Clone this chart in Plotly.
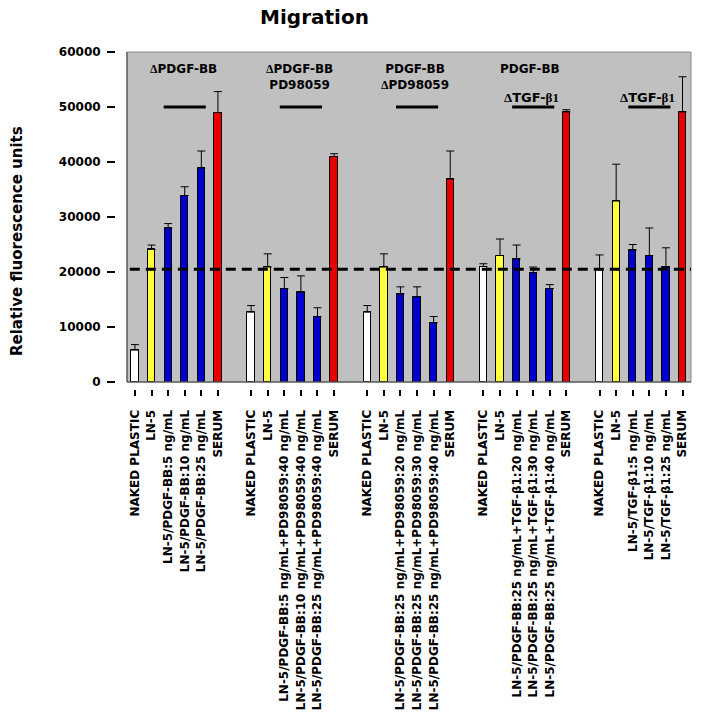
import plotly.graph_objects as go

# ---------------- data ----------------
group1_labels = ["NAKED PLASTIC", "LN-5", "LN-5/PDGF-BB:5 ng/mL", "LN-5/PDGF-BB:10 ng/mL",
                 "LN-5/PDGF-BB:25 ng/mL", "SERUM"]
group2_labels = ["NAKED PLASTIC", "LN-5", "LN-5/PDGF-BB:5 ng/mL+PD98059:40 ng/mL",
                 "LN-5/PDGF-BB:10 ng/mL+PD98059:40 ng/mL", "LN-5/PDGF-BB:25 ng/mL+PD98059:40 ng/mL", "SERUM"]
group3_labels = ["NAKED PLASTIC", "LN-5", "LN-5/PDGF-BB:25 ng/mL+PD98059:20 ng/mL",
                 "LN-5/PDGF-BB:25 ng/mL+PD98059:30 ng/mL", "LN-5/PDGF-BB:25 ng/mL+PD98059:40 ng/mL", "SERUM"]
group4_labels = ["NAKED PLASTIC", "LN-5", "LN-5/PDGF-BB:25 ng/mL+TGF-β1:20 ng/mL",
                 "LN-5/PDGF-BB:25 ng/mL+TGF-β1:30 ng/mL", "LN-5/PDGF-BB:25 ng/mL+TGF-β1:40 ng/mL", "SERUM"]
group5_labels = ["NAKED PLASTIC", "LN-5", "LN-5/TGF-β1:5 ng/mL", "LN-5/TGF-β1:10 ng/mL",
                 "LN-5/TGF-β1:25 ng/mL", "SERUM"]

group1_values = [5800, 24100, 28000, 33900, 38900, 49000]
group2_values = [12700, 20900, 17000, 16300, 11900, 41000]
group3_values = [12700, 20900, 16000, 15500, 10800, 36900]
group4_values = [21000, 23000, 22400, 19900, 17000, 49100]
group5_values = [20400, 32900, 24000, 23000, 20900, 49100]

group1_errors = [1000, 800, 800, 1600, 3100, 3800]
group2_errors = [1200, 2400, 2000, 3000, 1600, 500]
group3_errors = [1200, 2400, 1300, 1800, 1100, 5100]
group4_errors = [500, 3000, 2500, 1000, 700, 400]
group5_errors = [2700, 6700, 1000, 5000, 3500, 6400]

baseline_value = 20500
SERIF = "<span style='font-family:Liberation Serif'>%s</span>"
group_headers = [SERIF % "Δ" + "PDGF-BB",
                 SERIF % "Δ" + "PDGF-BB<br>PD98059",
                 "PDGF-BB<br>" + SERIF % "Δ" + "PD98059",
                 "PDGF-BB",
                 ""]
group_subheaders = ["", "", "",
                    SERIF % "Δ" + "TGF-" + SERIF % "β1",
                    SERIF % "Δ" + "TGF-" + SERIF % "β1"]

# ---------------- styling ----------------
bar_colors = ["#FFFFFF", "#FFFF40", "#0000CC", "#0000CC", "#0000CC", "#E80000"]

groups_labels = [group1_labels, group2_labels, group3_labels, group4_labels, group5_labels]
groups_values = [group1_values, group2_values, group3_values, group4_values, group5_values]
groups_errors = [group1_errors, group2_errors, group3_errors, group4_errors, group5_errors]

xs, ys, es, cs, ts = [], [], [], [], []
for g, (lab, val, err) in enumerate(zip(groups_labels, groups_values, groups_errors)):
    for i in range(len(val)):
        xs.append(g * 7 + i)
        ys.append(val[i])
        es.append(err[i])
        cs.append(bar_colors[i])
        ts.append(lab[i])

fig = go.Figure()
fig.add_trace(go.Bar(
    x=xs, y=ys, width=0.44,
    marker=dict(color=cs, line=dict(color="black", width=1)),
    error_y=dict(type="data", symmetric=False, array=es, arrayminus=[0] * len(es),
                 color="black", thickness=1, width=4),
    showlegend=False,
))

shapes = []
# plot frame
shapes.append(dict(type="rect", xref="x domain", yref="y domain", x0=0, x1=1, y0=0, y1=1,
                   line=dict(color="#8a8a8a", width=1), layer="above"))
shapes.append(dict(type="line", xref="x domain", yref="y domain", x0=0, x1=0, y0=0, y1=1,
                   line=dict(color="#404040", width=1)))
shapes.append(dict(type="line", xref="x domain", yref="y domain", x0=0, x1=1, y0=0, y1=0,
                   line=dict(color="#404040", width=1)))
# baseline dashed line
shapes.append(dict(type="line", xref="x domain", yref="y", x0=0.005, x1=1, y0=baseline_value, y1=baseline_value,
                   line=dict(color="black", width=3, dash="10px,6px")))

annotations = []
for g in range(5):
    c = g * 7 + 3
    shapes.append(dict(type="line", xref="x", yref="y", x0=c - 1.27, x1=c + 1.27, y0=50000, y1=50000,
                       line=dict(color="black", width=3)))
    if group_headers[g]:
        annotations.append(dict(x=c - 0.1 if g < 3 else c - 0.2, y=58600, xref="x", yref="y",
                                text=group_headers[g], showarrow=False, yanchor="top",
                                font=dict(family="DejaVu Sans", size=12, color="black", weight="bold")))
    if group_subheaders[g]:
        annotations.append(dict(x=c - 0.1, y=51800, xref="x", yref="y",
                                text=group_subheaders[g], showarrow=False, yanchor="middle",
                                font=dict(family="DejaVu Sans", size=13, color="black", weight="bold")))

annotations.append(dict(text="Relative fluorescence units", textangle=-90, showarrow=False,
                        xref="paper", yref="paper", x=(17 - 115) / 576, y=(389 - 241) / 337,
                        xanchor="center", yanchor="middle",
                        font=dict(family="DejaVu Sans", size=15, color="black", weight="bold")))

fig.update_layout(
    width=702, height=718,
    margin=dict(l=115, r=11, t=52, b=329, autoexpand=False),
    paper_bgcolor="white",
    plot_bgcolor="#C0C0C0",
    title=dict(text="Migration", x=314.5 / 702, xref="container", xanchor="center",
               y=1 - 17 / 718, yref="container", yanchor="middle",
               font=dict(family="DejaVu Sans", size=20, color="black", weight="bold")),
    shapes=shapes,
    annotations=annotations,
    bargap=0,
)
fig.update_xaxes(
    domain=[12 / 576, 1], anchor="free", position=0,
    range=[-0.48, 33.51], tickvals=xs, ticktext=ts, tickangle=-90,
    ticks="outside", ticklen=6, tickwidth=2, tickcolor="black",
    showgrid=False, zeroline=False, showline=False, automargin=False,
    ticklabelstandoff=9,
    tickfont=dict(family="DejaVu Sans", size=12, color="black", weight="bold"),
)
fig.update_yaxes(
    domain=[7 / 337, 1], anchor="free", position=0,
    range=[0, 60000], tickvals=[0, 10000, 20000, 30000, 40000, 50000, 60000],
    ticktext=["0", "10000", "20000", "30000", "40000", "50000", "60000"],
    ticks="outside", ticklen=8, tickwidth=2, tickcolor="black",
    showgrid=False, zeroline=False, showline=False, automargin=False,
    ticklabelstandoff=4,
    tickfont=dict(family="DejaVu Sans", size=12, color="black", weight="bold"),
)

fig.write_html("out.html", config={"displayModeBar": False},
               post_script="document.body.style.margin='0px';")
